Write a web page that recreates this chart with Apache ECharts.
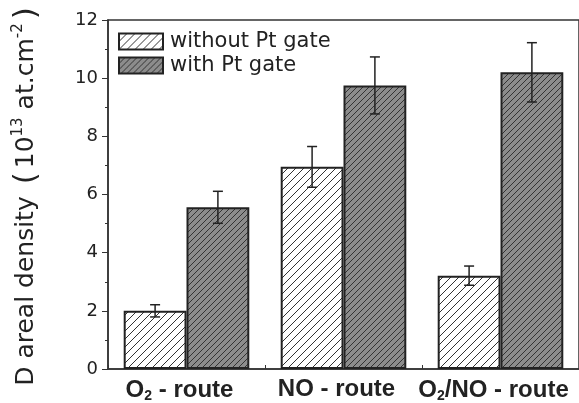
<!DOCTYPE html>
<html><head><meta charset="utf-8">
<script src="https://cdn.jsdelivr.net/npm/echarts@6/dist/echarts.min.js"></script>
<style>html,body{margin:0;padding:0;background:#fff}#c{width:579px;height:403px}</style>
</head><body><div id="c"></div>
<script>
const categories = ['{n|O}{sub|2}{n| - route}', '{n|NO - route}', '{n|O}{sub|2}{n|/NO - route}'];
const withoutPt = [2.0, 6.95, 3.21];
const withoutPtErr = [0.21, 0.7, 0.33];
const withPt = [5.56, 9.75, 10.2];
const withPtErr = [0.55, 0.98, 1.02];
const yTicks = [0, 2, 4, 6, 8, 10, 12];

const SANS = 'DejaVu Sans, sans-serif';
const ARIAL = 'Liberation Sans, Arial, sans-serif';

function hatch(bg, step, lineColor) {
  const c = document.createElement('canvas');
  c.width = step; c.height = step;
  const g = c.getContext('2d');
  g.fillStyle = bg; g.fillRect(0, 0, step, step);
  g.strokeStyle = lineColor; g.lineWidth = 1;
  g.beginPath();
  g.moveTo(0, step); g.lineTo(step, 0);
  g.moveTo(-step, step); g.lineTo(step, -step);
  g.moveTo(0, 2 * step); g.lineTo(2 * step, 0);
  g.stroke();
  return { image: c, repeat: 'repeat' };
}

const chart = echarts.init(document.getElementById('c'), null, { renderer: 'canvas' });

function errSeries(seriesIdx, vals, errs) {
  return {
    type: 'custom',
    name: 'err' + seriesIdx,
    z: 10,
    silent: true,
    data: vals.map((v, i) => [i, v, errs[i]]),
    renderItem: function (params, api) {
      const i = api.value(0), v = api.value(1), e = api.value(2);
      const size = api.size([1, 0]);
      const bw = size[0] * 0.4;
      const cx0 = api.coord([i, 0])[0];
      const cx = cx0 + (seriesIdx === 0 ? -bw / 2 : bw / 2);
      const top = api.coord([i, v + e])[1];
      const bot = api.coord([i, v - e])[1];
      const cap = 5;
      const st = { stroke: '#222', lineWidth: 1.5 };
      return {
        type: 'group',
        children: [
          { type: 'line', shape: { x1: cx, y1: top, x2: cx, y2: bot }, style: st },
          { type: 'line', shape: { x1: cx - cap, y1: top, x2: cx + cap, y2: top }, style: st },
          { type: 'line', shape: { x1: cx - cap, y1: bot, x2: cx + cap, y2: bot }, style: st }
        ]
      };
    }
  };
}

chart.setOption({
  animation: false,
  backgroundColor: '#fff',
  textStyle: { fontFamily: SANS },
  grid: { left: 108, right: -12, top: 20, bottom: 32, show: true, borderColor: '#333', borderWidth: 1.5, backgroundColor: 'transparent' },
  legend: {
    orient: 'vertical', left: 118, top: 31, itemWidth: 44, itemHeight: 16, itemGap: 3,
    padding: 0,
    icon: 'rect',
    data: ['without Pt gate', 'with Pt gate'],
    textStyle: { fontSize: 21, color: '#222', fontFamily: SANS, padding: [0, 0, 0, 2] }
  },
  xAxis: {
    type: 'category',
    data: categories,
    axisLine: { lineStyle: { color: '#333', width: 1.5 } },
    axisTick: { show: true, inside: true, length: 4, lineStyle: { color: '#333' } },
    axisLabel: {
      interval: 0,
      margin: 8,
      padding: [0, 14, 0, 0],
      rich: {
        n: { fontSize: 24, fontWeight: 'bold', color: '#222', fontFamily: ARIAL },
        sub: { fontSize: 14, fontWeight: 'bold', color: '#222', verticalAlign: 'bottom', padding: [12, 0, 0, 0], fontFamily: ARIAL }
      }
    }
  },
  yAxis: {
    type: 'value', min: yTicks[0], max: yTicks[yTicks.length - 1], interval: 2,
    name: 'D areal density {p|(}10{sup|13} at.cm{sup|-2}{p|)}',
    nameLocation: 'middle', nameGap: 66, nameRotate: 90,
    nameTextStyle: {
      fontSize: 25, color: '#222', fontFamily: SANS,
      rich: {
        p: { fontSize: 31, color: '#222', fontFamily: SANS, padding: [0, 4, 0, 4] },
        sup: { fontSize: 15, color: '#222', verticalAlign: 'top', padding: [0, 0, 12, 0], fontFamily: SANS }
      }
    },
    axisLine: { show: true, lineStyle: { color: '#333', width: 1.5 } },
    axisTick: { show: true, length: 6, lineStyle: { color: '#333' } },
    minorTick: { show: true, splitNumber: 2, length: 3, lineStyle: { color: '#333' } },
    splitLine: { show: false },
    axisLabel: { fontSize: 18, color: '#222', margin: 10, fontFamily: SANS }
  },
  series: [
    {
      name: 'without Pt gate', type: 'bar', data: withoutPt, barWidth: '40%', barGap: '0%',
      itemStyle: { color: hatch('#ffffff', 8, '#333'), borderColor: '#222', borderWidth: 2 }
    },
    {
      name: 'with Pt gate', type: 'bar', data: withPt, barWidth: '40%', barGap: '0%',
      itemStyle: { color: hatch('#8c8c8c', 6, '#333'), borderColor: '#222', borderWidth: 2 }
    },
    errSeries(0, withoutPt, withoutPtErr),
    errSeries(1, withPt, withPtErr)
  ]
});
</script>
</body></html>
